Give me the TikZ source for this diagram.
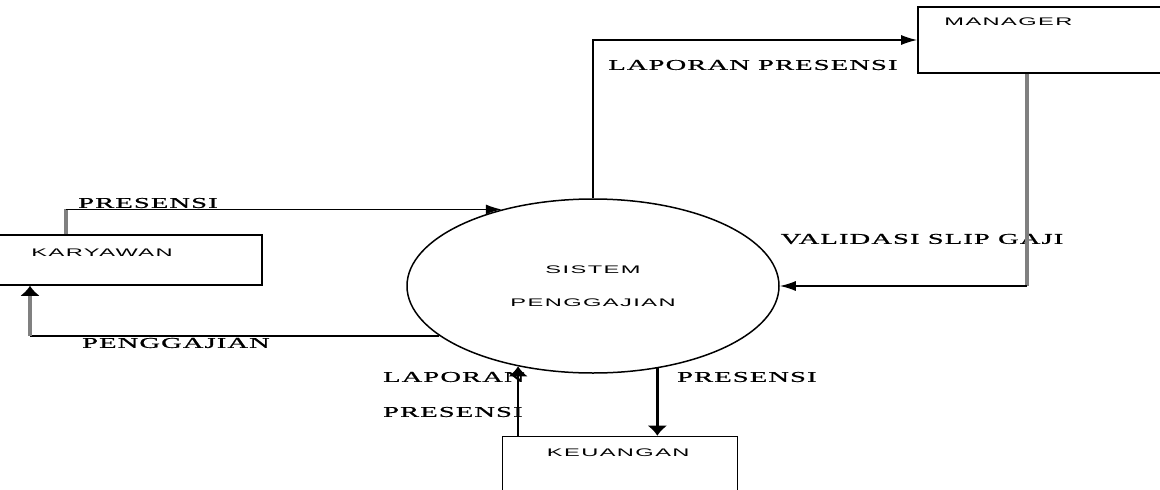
\documentclass[tikz,border=0pt]{standalone}
\usepackage{fontspec}
\usetikzlibrary{shapes.geometric,arrows.meta}
\newfontfamily\lblfont[FakeBold=0.6,LetterSpace=4]{Liberation Serif}
\newfontfamily\boxfont[LetterSpace=6]{Liberation Sans}
\newcommand{\wl}[1]{\scalebox{1.9}[1]{#1}}
\newcommand{\wb}[1]{\scalebox{2.15}[1]{#1}}

\begin{document}
\begin{tikzpicture}[x=1pt,y=-1pt,
ent/.style={draw,rectangle,line width=1.6pt,inner sep=0pt},
proc/.style={draw,ellipse,line width=1.5pt,minimum width=372pt,minimum height=174pt,inner sep=0pt,align=center,font=\boxfont\fontsize{11}{13}\selectfont},
lbl/.style={font=\lblfont\fontsize{15}{18}\selectfont,inner sep=0pt},
txt/.style={font=\boxfont\fontsize{11}{13}\selectfont,inner sep=0pt,anchor=west},
flow/.style={line width=1.5pt,-{Latex[length=16pt,width=10pt]}},
heavy/.style={line width=2.5pt,-{Latex[length=10pt,width=20pt]}},
gline/.style={line width=3.5pt,gray}]
\useasboundingbox (0,0) rectangle (1160,490);
\clip (0,0) rectangle (1160,490);

\node[proc] (sys) at (593,286) {\wb{SISTEM}\\[20pt]\wb{PENGGAJIAN}};
\node[ent,minimum width=282pt,minimum height=50pt,label={[txt,xshift=52pt,yshift=7pt]west:\wb{KARYAWAN}}] (kar) at (121,260) {};
\node[ent,minimum width=262pt,minimum height=66pt,label={[txt,xshift=27pt,yshift=18pt]west:\wb{MANAGER}}] (mgr) at (1049,40) {};
\node[ent,minimum width=235pt,minimum height=73pt,label={[txt,xshift=45pt,yshift=20pt]west:\wb{KEUANGAN}}] (keu) at (620,473) {};

\node[lbl] (l1) at (148,203) {\wl{PRESENSI}};
\node[lbl] (l2) at (176,343) {\wl{PENGGAJIAN}};
\node[lbl] (l3) at (753,65) {\wl{LAPORAN PRESENSI}};
\node[lbl] (l4) at (922,239) {\wl{VALIDASI SLIP GAJI}};
\node[lbl,anchor=west] (l5) at (383,377) {\wl{LAPORAN}};
\node[lbl,anchor=west] (l6) at (383,412) {\wl{PRESENSI}};
\node[lbl,anchor=west] (l7) at (677,377) {\wl{PRESENSI}};

\coordinate (p1) at ([xshift=-55pt]kar.north);
\coordinate (p2) at ([xshift=-91pt]kar.south);
\coordinate (p3) at ([xshift=-22pt]mgr.south);

\draw[gline] (p1) -- (p1 |- sys.140);
\draw[flow] (p1 |- sys.140) -- (sys.140);
\draw[line width=1.5pt] (sys.198) -- (sys.198 -| p2);
\draw[gline,-{Latex[length=10pt,width=20pt,color=black]}] (sys.198 -| p2) -- (p2);
\draw[flow] (sys.north) |- (mgr.west);
\draw[gline] (p3) -- (p3 |- sys.east);
\draw[flow] (p3 |- sys.east) -- (sys.east);
\draw[heavy] (sys.227 |- keu.north) -- (sys.227);
\draw[heavy] (sys.308) -- (sys.308 |- keu.north);

\end{tikzpicture}
\end{document}
